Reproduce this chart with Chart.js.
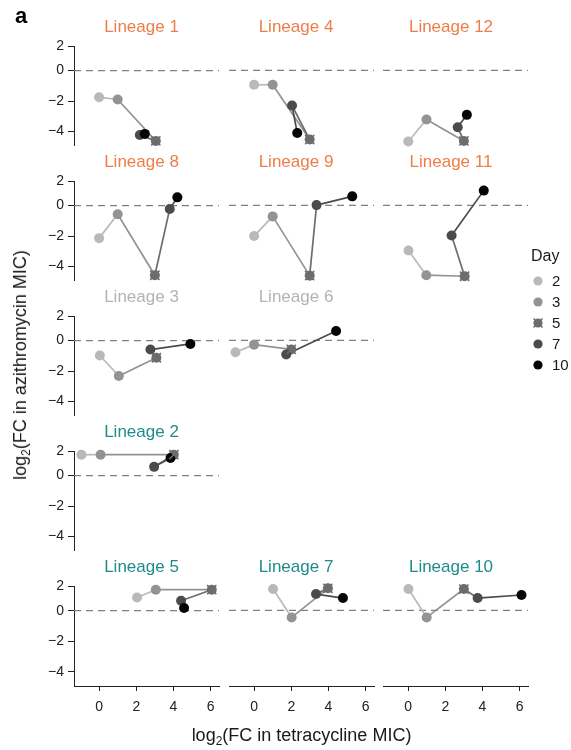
<!DOCTYPE html>
<html>
<head>
<meta charset="utf-8">
<script src="https://cdn.jsdelivr.net/npm/chart.js@4.4.1/dist/chart.umd.min.js"></script>
<style>
  html, body { margin: 0; padding: 0; background: #fff; }
  #fig { position: relative; width: 571px; height: 750px; overflow: hidden;
         font-family: "Liberation Sans", Arial, sans-serif; color: #1a1a1a; }
  #fig canvas { position: absolute; }
  .title { position: absolute; font-size: 17px; line-height: 17px; white-space: nowrap; transform: translateX(-50%); }
  .lbl { position: absolute; white-space: nowrap; }
  .axis-title { position: absolute; font-size: 18px; line-height: 18px; white-space: nowrap; }
  .axis-title sub { font-size: 12px; vertical-align: -4px; line-height: 0; }
</style>
</head>
<body>
<div id="fig"></div>
<script>
// ---- data: log2 fold change in MIC, one value per sampling day ----
const days = [2, 3, 5, 7, 10];
const dayColors = ['#b9b9b9', '#939393', '#6d6d6d', '#4b4b4b', '#050505'];

// tetracycline (x) and azithromycin (y), ordered by day 2, 3, 5, 7, 10
const tet1  = [0.00, 1.00, 3.05, 2.19, 2.46];
const azi1  = [-1.75, -1.90, -4.62, -4.23, -4.16];
const tet4  = [0.00, 1.00, 2.99, 2.04, 2.32];
const azi4  = [-0.94, -0.94, -4.51, -2.29, -4.08];
const tet12 = [0.01, 0.99, 3.00, 2.67, 3.16];
const azi12 = [-4.64, -3.20, -4.60, -3.71, -2.90];
const tet8  = [0.00, 1.00, 3.00, 3.80, 4.21];
const azi8  = [-2.14, -0.57, -4.58, -0.22, 0.68];
const tet9  = [0.00, 1.00, 2.99, 3.36, 5.28];
const azi9  = [-2.00, -0.72, -4.58, 0.02, 0.74];
const tet11 = [0.02, 0.98, 3.04, 2.34, 4.07];
const azi11 = [-2.94, -4.55, -4.62, -1.96, 1.21];
const tet3  = [0.04, 1.06, 3.08, 2.76, 4.91];
const azi3  = [-0.98, -2.33, -1.13, -0.59, -0.22];
const tet6  = [-1.00, 0.00, 2.00, 1.73, 4.41];
const azi6  = [-0.78, -0.28, -0.59, -0.92, 0.77];
const tet2  = [-0.95, 0.08, 4.02, 2.96, 3.84];
const azi2  = [1.73, 1.73, 1.73, 0.72, 1.46];
const tet5  = [2.04, 3.05, 6.06, 4.41, 4.57];
const azi5  = [1.09, 1.73, 1.73, 0.82, 0.22];
const tet7  = [1.02, 2.02, 3.97, 3.33, 4.78];
const azi7  = [1.75, -0.46, 1.81, 1.34, 1.01];
const tet10 = [0.02, 1.00, 3.00, 3.74, 6.10];
const azi10 = [1.75, -0.46, 1.75, 1.01, 1.26];

const tetTicks = [0, 2, 4, 6];
const aziTicks = [-4, -2, 0, 2];

// ---- facet layout ----
const ORANGE = '#ee7d49', GREY = '#b3b3b3', TEAL = '#1e8c8b';
const panels = [
  { name: 'Lineage 1',  tet: tet1,  azi: azi1,  row: 0, col: 0, color: ORANGE },
  { name: 'Lineage 4',  tet: tet4,  azi: azi4,  row: 0, col: 1, color: ORANGE },
  { name: 'Lineage 12', tet: tet12, azi: azi12, row: 0, col: 2, color: ORANGE },
  { name: 'Lineage 8',  tet: tet8,  azi: azi8,  row: 1, col: 0, color: ORANGE },
  { name: 'Lineage 9',  tet: tet9,  azi: azi9,  row: 1, col: 1, color: ORANGE },
  { name: 'Lineage 11', tet: tet11, azi: azi11, row: 1, col: 2, color: ORANGE },
  { name: 'Lineage 3',  tet: tet3,  azi: azi3,  row: 2, col: 0, color: GREY },
  { name: 'Lineage 6',  tet: tet6,  azi: azi6,  row: 2, col: 1, color: GREY },
  { name: 'Lineage 2',  tet: tet2,  azi: azi2,  row: 3, col: 0, color: TEAL },
  { name: 'Lineage 5',  tet: tet5,  azi: azi5,  row: 4, col: 0, color: TEAL },
  { name: 'Lineage 7',  tet: tet7,  azi: azi7,  row: 4, col: 1, color: TEAL },
  { name: 'Lineage 10', tet: tet10, azi: azi10, row: 4, col: 2, color: TEAL },
];

const FONT = '"Liberation Sans", Arial, sans-serif';
const PLOT_LEFT = [74, 229, 383];
const PLOT_TOP0 = 46, ROW_STEP = 135;
const PW = 145, PH = 100;
const PAD = 12, AXW = 44, AXH = 40;
const X_MIN = -1.35, X_MAX = 6.45;
const Y_MIN = -4.93, Y_MAX = 2;
const TITLE_CX = [141.5, 296, 451];
const TITLE_BASE0 = 32.5;
const INK = '#222';

// The y axis spends less room per unit above zero than below it.
const POS_SHRINK = 0.794;
class SplitLinearScale extends Chart.LinearScale {
  warp(v) { return v > 0 ? v * POS_SHRINK : v; }
  getPixelForValue(value) {
    if (value === null || isNaN(value)) return NaN;
    const a = this.warp(this.min), b = this.warp(this.max);
    return this.getPixelForDecimal((this.warp(value) - a) / (b - a));
  }
  getValueForPixel(pixel) {
    const a = this.warp(this.min), b = this.warp(this.max);
    const w = a + this.getDecimalForPixel(pixel) * (b - a);
    return w > 0 ? w / POS_SHRINK : w;
  }
}
SplitLinearScale.id = 'splitLinear';
SplitLinearScale.defaults = Chart.LinearScale.defaults;
Chart.register(SplitLinearScale);

// dashed reference line at zero fold change
const zeroLine = {
  id: 'zeroLine',
  beforeDatasetsDraw(chart) {
    const { ctx, chartArea, scales } = chart;
    const py = scales.y.getPixelForValue(0);
    ctx.save();
    ctx.strokeStyle = '#808080';
    ctx.lineWidth = 1.3;
    ctx.setLineDash([7, 5]);
    ctx.beginPath();
    ctx.moveTo(chartArea.left, py);
    ctx.lineTo(chartArea.right, py);
    ctx.stroke();
    ctx.restore();
  }
};

const fig = document.getElementById('fig');
const minus = v => (v < 0 ? '\u2212' + Math.abs(v) : String(v));

function addPanel(p) {
  const isLeft = p.col === 0;
  const isBottom = p.row === 4;
  const plotTop = PLOT_TOP0 + ROW_STEP * p.row;
  const canvas = document.createElement('canvas');
  const w = PW + 2 * PAD + (isLeft ? AXW : 0);
  const h = PH + 2 * PAD + (isBottom ? AXH : 0);
  canvas.width = w; canvas.height = h;
  canvas.style.width = w + 'px'; canvas.style.height = h + 'px';
  canvas.style.left = (PLOT_LEFT[p.col] - PAD - (isLeft ? AXW : 0)) + 'px';
  canvas.style.top = (plotTop - PAD) + 'px';
  fig.appendChild(canvas);

  const pts = p.tet.map((x, i) => ({ x, y: p.azi[i] }));
  const dayFive = days.indexOf(5);

  new Chart(canvas, {
    type: 'line',
    data: {
      datasets: [
        {
          // cross overlay marking the day-5 sample
          data: [pts[dayFive]],
          showLine: false,
          pointStyle: 'crossRot',
          pointRadius: 6.5,
          pointBorderWidth: 1.6,
          pointBorderColor: dayColors[dayFive],
          pointBackgroundColor: dayColors[dayFive],
          clip: false,
          order: 0
        },
        {
          data: pts,
          borderWidth: 1.7,
          tension: 0,
          segment: { borderColor: ctx => dayColors[ctx.p0DataIndex] },
          pointRadius: 5,
          pointBorderWidth: 0,
          pointBackgroundColor: dayColors,
          pointBorderColor: dayColors,
          clip: false,
          order: 1
        }
      ]
    },
    options: {
      responsive: false,
      animation: false,
      devicePixelRatio: 1,
      events: [],
      layout: { padding: { left: PAD, right: PAD, top: PAD, bottom: PAD } },
      plugins: { legend: { display: false }, tooltip: { enabled: false } },
      scales: {
        x: {
          type: 'linear', min: X_MIN, max: X_MAX, display: isBottom,
          afterBuildTicks: s => { s.ticks = tetTicks.map(v => ({ value: v })); },
          afterFit: s => { if (isBottom) s.height = AXH; },
          grid: { drawOnChartArea: false, drawTicks: true, tickLength: 5, color: INK, lineWidth: 1 },
          border: { display: true, color: INK, width: 1 },
          ticks: { font: { family: FONT, size: 14 }, color: INK, padding: 8, maxRotation: 0, autoSkip: false, callback: v => minus(v) }
        },
        y: {
          type: 'splitLinear', min: Y_MIN, max: Y_MAX, display: isLeft,
          afterBuildTicks: s => { s.ticks = aziTicks.map(v => ({ value: v })); },
          afterFit: s => { if (isLeft) s.width = AXW; },
          grid: { drawOnChartArea: false, drawTicks: true, tickLength: 6, color: INK, lineWidth: 1 },
          border: { display: true, color: INK, width: 1 },
          ticks: { font: { family: FONT, size: 14 }, color: INK, padding: 4, autoSkip: false, callback: v => minus(v) }
        }
      }
    },
    plugins: [zeroLine]
  });

  const t = document.createElement('div');
  t.className = 'title';
  t.textContent = p.name;
  t.style.color = p.color;
  t.style.left = TITLE_CX[p.col] + 'px';
  t.style.top = (TITLE_BASE0 + ROW_STEP * p.row - 14.4) + 'px';
  fig.appendChild(t);
}

panels.forEach(addPanel);

// panel tag
const tag = document.createElement('div');
tag.className = 'lbl';
tag.textContent = 'a';
tag.style.cssText += 'left:15px;top:5px;font-size:22px;line-height:22px;font-weight:bold;color:#000;';
fig.appendChild(tag);

// axis titles
const xt = document.createElement('div');
xt.className = 'axis-title';
xt.innerHTML = 'log<sub>2</sub>(FC in tetracycline MIC)';
xt.style.left = '301.5px'; xt.style.top = '734.5px';
xt.style.transform = 'translate(-50%, -50%)';
fig.appendChild(xt);

const yt = document.createElement('div');
yt.className = 'axis-title';
yt.innerHTML = 'log<sub>2</sub>(FC in azithromycin MIC)';
yt.style.left = '19.5px'; yt.style.top = '365px';
yt.style.transform = 'translate(-50%, -50%) rotate(-90deg)';
fig.appendChild(yt);

// legend for sampling day
const leg = document.createElement('div');
leg.className = 'lbl';
leg.style.left = '531px'; leg.style.top = '248px';
let html = '<div style="font-size:16px;line-height:16px;margin-bottom:6px;">Day</div>';
days.forEach((d, i) => {
  const cross = d === 5
    ? `<path d="M2.5 2.5 L11.5 11.5 M11.5 2.5 L2.5 11.5" stroke="${dayColors[i]}" stroke-width="1.5"/>`
    : '';
  html += `<div style="height:21px;display:flex;align-items:center;font-size:15px;">
    <svg width="14" height="14" style="margin-right:7px"><circle cx="7" cy="7" r="4.6" fill="${dayColors[i]}"/>${cross}</svg>${d}</div>`;
});
leg.innerHTML = html;
fig.appendChild(leg);
</script>
</body>
</html>
